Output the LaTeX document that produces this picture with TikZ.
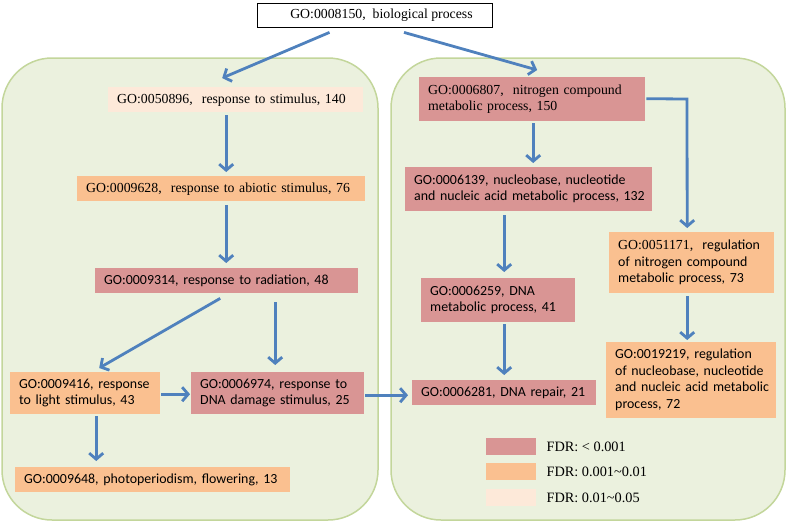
\documentclass[tikz,border=0pt]{standalone}
\usepackage{fontspec}
\setmainfont{Liberation Serif}
\newfontfamily\serf{Liberation Serif}
\newfontfamily\calf{Carlito}
\usetikzlibrary{arrows.meta}
\definecolor{cRed}{HTML}{D99594}
\definecolor{cOrange}{HTML}{FAC090}
\definecolor{cPeach}{HTML}{FDE9D9}
\definecolor{cPanel}{HTML}{EBF1DE}
\definecolor{cPanelBorder}{HTML}{C3D69B}
\definecolor{cArrow}{HTML}{4F81BD}
\newcommand{\golines}[1]{\begin{tabular}{@{}l@{}}#1\end{tabular}}
\newcommand{\sfnt}{\serf\fontsize{13.8}{16.5}\selectfont}
\newcommand{\cfnt}{\calf\fontsize{13.9}{16.5}\selectfont}
\tikzset{
  panel/.style={draw=cPanelBorder, fill=cPanel, line width=1.5pt, rounded corners=50pt},
  gobox/.style={anchor=north west, inner xsep=9pt, inner ysep=0pt, align=left, text=black},
  arr/.style={draw=cArrow, line width=2.8pt, -{Straight Barb[length=6pt,width=14pt]}},
  legsw/.style={anchor=north west, minimum width=50pt, minimum height=17pt, inner sep=0pt},
  legtx/.style={anchor=west, inner sep=0pt, font=\serf\fontsize{14.3}{16.5}\selectfont},
}
\begin{document}
\begin{tikzpicture}[x=1pt,y=-1pt]
\useasboundingbox (0,0) rectangle (787,523);
% panels
\draw[panel] (2,58) rectangle (378,520);
\draw[panel] (391,58) rectangle (785,520);
% top
\node[draw=black, fill=white, line width=0.8pt, minimum width=235pt, minimum height=24pt,
      inner sep=0pt, font=\sfnt] (top) at (374.5,15)
      {\hspace*{14pt}GO:0008150,\ \ biological process};
% left panel
\node[gobox, fill=cPeach, text width=237pt, minimum height=25pt, font=\sfnt] (stim) at (108,87)
  {\golines{GO:0050896,\ \ response to stimulus, 140}};
\node[gobox, fill=cOrange, text width=270pt, minimum height=25pt, font=\sfnt] (abio) at (77,176)
  {\golines{GO:0009628,\ \ response to abiotic stimulus, 76}};
\node[gobox, fill=cRed, text width=245pt, minimum height=25pt, font=\cfnt] (rad) at (95,268)
  {\golines{GO:0009314, response to radiation, 48}};
\node[gobox, fill=cOrange, text width=132pt, minimum height=42pt, font=\cfnt] (light) at (10,372)
  {\golines{GO:0009416, response\\to light stimulus, 43}};
\node[gobox, fill=cRed, text width=155pt, minimum height=42pt, font=\cfnt] (dmg) at (191,372)
  {\golines{GO:0006974, response to\\DNA damage stimulus, 25}};
\node[gobox, fill=cOrange, text width=257pt, minimum height=25pt, font=\cfnt] (photo) at (15,467)
  {\golines{GO:0009648, photoperiodism, flowering, 13}};
% right panel
\node[gobox, fill=cRed, text width=208pt, minimum height=44pt, font=\sfnt] (nitro) at (419,77)
  {\golines{GO:0006807,\ \ nitrogen compound\\metabolic process, 150}};
\node[gobox, fill=cRed, text width=229pt, minimum height=44pt, font=\cfnt] (nucl) at (405,167)
  {\golines{GO:0006139, nucleobase, nucleotide\\and nucleic acid metabolic process, 132}};
\node[gobox, fill=cRed, text width=136pt, minimum height=44pt, font=\cfnt] (dnam) at (421,278)
  {\golines{GO:0006259, DNA\\metabolic process, 41}};
\node[gobox, fill=cOrange, text width=147pt, minimum height=61pt, font=\cfnt] (regn) at (609,232)
  {\golines{{\sfnt GO:0051171,}\ \ regulation\\of nitrogen compound\\metabolic process, 73}};
\node[gobox, fill=cRed, text width=166pt, minimum height=25pt, font=\cfnt] (rep) at (412,380)
  {\golines{GO:0006281, DNA repair, 21}};
\node[gobox, fill=cOrange, text width=152pt, minimum height=76pt, font=\cfnt] (reg19) at (606,342)
  {\golines{GO:0019219, regulation\\of nucleobase, nucleotide\\and nucleic acid metabolic\\process, 72}};
% legend
\node[legsw, fill=cRed] (l1) at (486,438) {};
\node[legsw, fill=cOrange] (l2) at (486,463) {};
\node[legsw, fill=cPeach] (l3) at (486,489) {};
\node[legtx] (t1) at ([xshift=10pt]l1.east) {FDR: < 0.001};
\node[legtx] (t2) at ([xshift=10pt]l2.east) {FDR: 0.001\textasciitilde 0.01};
\node[legtx] (t3) at ([xshift=10pt]l3.east) {FDR: 0.01\textasciitilde 0.05};
% arrows
\draw[arr] ([xshift=-45pt,yshift=-5pt]top.south) -- ([xshift=-13.5pt,yshift=9pt]stim.north);
\draw[arr] ([xshift=29.5pt,yshift=-5pt]top.south) -- ([xshift=5pt,yshift=7pt]nitro.north);
\draw[arr] ([xshift=-9.5pt,yshift=-3pt]stim.south) -- ([xshift=5pt,yshift=4pt]abio.north);
\draw[arr] ([xshift=5pt,yshift=-4pt]abio.south) -- ([xshift=-0.5pt,yshift=5pt]rad.north);
\draw[arr] ([xshift=-6.5pt,yshift=-5pt]rad.south) -- ([xshift=14pt,yshift=4pt]light.north);
\draw[arr] ([xshift=48.5pt,yshift=-9pt]rad.south) -- ([xshift=-2.5pt,yshift=7pt]dmg.north);
\draw[arr] ([xshift=1pt,yshift=-1pt]light.east) -- ([xshift=-1pt,yshift=-1pt]dmg.west);
\draw[arr] ([xshift=11pt,yshift=-2pt]light.south) -- ([xshift=-56.5pt,yshift=6pt]photo.north);
\draw[arr] ([xshift=1pt,yshift=-2pt]dmg.east) -- ([xshift=-4pt,yshift=-2.5pt]rep.west);
\draw[arr] ([xshift=1pt,yshift=-2pt]nitro.south) -- ([xshift=4.5pt,yshift=4pt]nucl.north);
\draw[arr] ([xshift=-24.5pt,yshift=-4pt]nucl.south) -- ([xshift=6pt,yshift=6pt]dnam.north);
\draw[arr] ([xshift=6pt,yshift=-2pt]dnam.south) -- ([xshift=0pt,yshift=5pt]rep.north);
\coordinate (elb) at (687,99);
\draw[arr] ([xshift=1pt,yshift=0.5pt]nitro.east) -- (elb) -- ([xshift=-4.5pt,yshift=4pt]regn.north);
\draw[arr] ([xshift=-4.5pt,yshift=-3pt]regn.south) -- ([xshift=-4pt,yshift=2pt]reg19.north);
\end{tikzpicture}
\end{document}
